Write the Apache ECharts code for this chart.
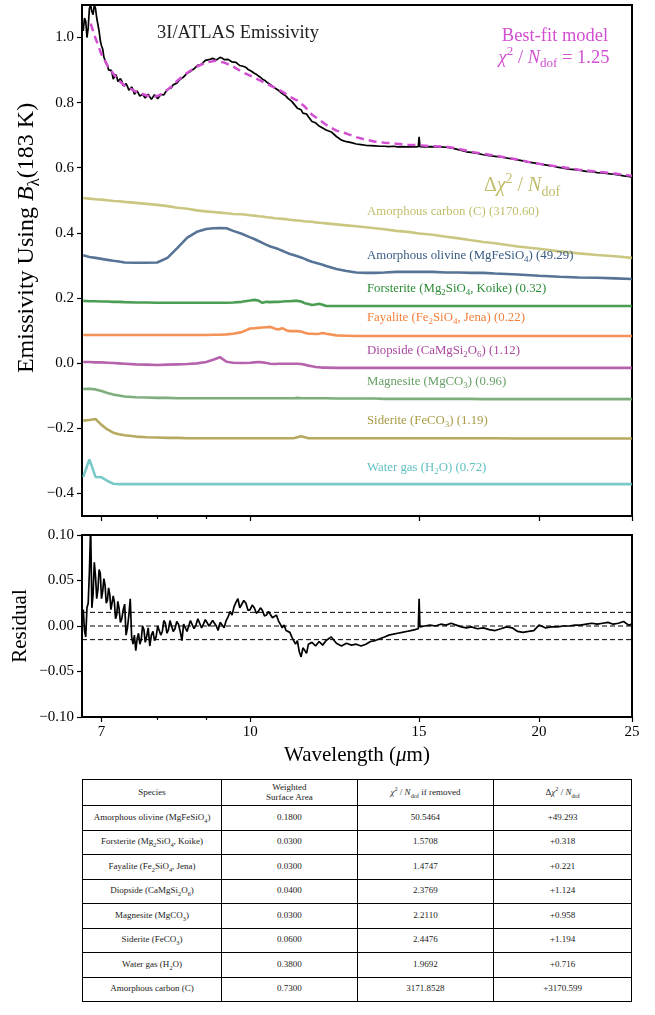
<!DOCTYPE html>
<html>
<head>
<meta charset="utf-8">
<title>3I/ATLAS Emissivity</title>
<script src="https://cdn.jsdelivr.net/npm/echarts@6.0.0/dist/echarts.min.js"></script>
<style>
  html, body { margin: 0; padding: 0; background: #fff; }
  #page { position: relative; width: 655px; height: 1015px; }
  #chart { position: absolute; left: 0; top: 0; width: 655px; height: 770px; }
  #fitTable {
    position: absolute; left: 82px; top: 779px; width: 550px;
    border-collapse: collapse; border: 1.5px solid #000;
    font-family: "Liberation Serif", "DejaVu Serif", serif; font-size: 9px; color: #222;
  }
  #fitTable td, #fitTable th {
    border: 1px solid #000; text-align: center; font-weight: normal;
    height: 23.5px; padding: 0 2px; line-height: 1.1;
  }
  #fitTable th { height: 25px; }
  #fitTable sub, #fitTable sup { font-size: 70%; line-height: 0; }
</style>
</head>
<body>
<div id="page">
  <div id="chart"></div>
  <table id="fitTable"></table>
</div>
<script>
// observed spectrum + residual share one wavelength grid (micron)
const WL_OBS = [
  6.70, 6.72, 6.74, 6.76, 6.78, 6.80, 6.82, 6.84, 6.86, 6.88,
  6.90, 6.92, 6.94, 6.96, 6.98, 7.00, 7.02, 7.04, 7.06, 7.08,
  7.10, 7.12, 7.14, 7.16, 7.18, 7.20, 7.22, 7.24, 7.26, 7.28,
  7.30, 7.325, 7.35, 7.375, 7.40, 7.425, 7.45, 7.475, 7.50, 7.525,
  7.55, 7.575, 7.60, 7.625, 7.65, 7.675, 7.70, 7.725, 7.75, 7.775,
  7.80, 7.83, 7.86, 7.89, 7.92, 7.95, 7.98, 8.01, 8.04, 8.07,
  8.10, 8.13, 8.16, 8.19, 8.22, 8.25, 8.28, 8.315, 8.35, 8.385,
  8.42, 8.455, 8.49, 8.525, 8.56, 8.595, 8.63, 8.665, 8.70, 8.74,
  8.78, 8.82, 8.86, 8.90, 8.94, 8.98, 9.02, 9.06, 9.10, 9.14,
  9.18, 9.22, 9.26, 9.305, 9.35, 9.395, 9.44, 9.485, 9.53, 9.575,
  9.62, 9.665, 9.71, 9.755, 9.80, 9.85, 9.90, 9.95, 10.0, 10.05,
  10.1, 10.15, 10.2, 10.25, 10.3, 10.35, 10.4, 10.45, 10.5, 10.55,
  10.6, 10.65, 10.7, 10.75, 10.8, 10.85, 10.9, 10.95, 11.0, 11.05,
  11.1, 11.15, 11.2, 11.25, 11.3, 11.35, 11.4, 11.45, 11.5, 11.6,
  11.7, 11.8, 11.9, 12.0, 12.15, 12.3, 12.45, 12.6, 12.75, 12.9,
  13.05, 13.2, 13.35, 13.5, 13.65, 13.8, 13.95, 14.1, 14.25, 14.4,
  14.55, 14.7, 14.85, 14.97, 15.0, 15.03, 15.2, 15.4, 15.6, 15.8,
  16.0, 16.2, 16.4, 16.6, 16.8, 17.0, 17.25, 17.5, 17.75, 18.0,
  18.25, 18.5, 18.75, 19.0, 19.25, 19.5, 19.75, 20.0, 20.3, 20.6,
  20.9, 21.2, 21.5, 21.8, 22.1, 22.4, 22.7, 23.0, 23.3, 23.6,
  23.9, 24.2, 24.5, 24.8, 25.0
];
const FLUX_OBS = [
  1.02, 1.06, 1.05, 1.00, 1.03, 1.09, 1.10, 1.08, 1.07, 1.10,
  1.09, 1.06, 1.04, 1.02, 0.99, 0.975, 0.965, 0.94, 0.93, 0.925,
  0.915, 0.9, 0.895, 0.9, 0.89, 0.872, 0.875, 0.887, 0.88, 0.865,
  0.862, 0.874, 0.866, 0.852, 0.848, 0.858, 0.85, 0.838, 0.835, 0.848,
  0.84, 0.826, 0.822, 0.836, 0.834, 0.82, 0.818, 0.826, 0.83, 0.814,
  0.815, 0.826, 0.824, 0.81, 0.812, 0.824, 0.822, 0.812, 0.816, 0.825,
  0.828, 0.824, 0.832, 0.838, 0.842, 0.84, 0.846, 0.855, 0.858, 0.86,
  0.866, 0.872, 0.877, 0.879, 0.884, 0.89, 0.893, 0.896, 0.902, 0.904,
  0.908, 0.915, 0.92, 0.918, 0.922, 0.93, 0.93, 0.932, 0.928, 0.936,
  0.938, 0.931, 0.934, 0.939, 0.937, 0.932, 0.93, 0.933, 0.929, 0.925,
  0.922, 0.924, 0.92, 0.914, 0.912, 0.911, 0.908, 0.902, 0.899, 0.895,
  0.89, 0.887, 0.882, 0.878, 0.872, 0.869, 0.864, 0.86, 0.855, 0.851,
  0.846, 0.843, 0.838, 0.832, 0.828, 0.825, 0.82, 0.813, 0.808, 0.804,
  0.797, 0.79, 0.783, 0.786, 0.778, 0.768, 0.762, 0.765, 0.757, 0.742,
  0.738, 0.728, 0.722, 0.716, 0.71, 0.696, 0.685, 0.68, 0.677, 0.673,
  0.671, 0.669, 0.668, 0.667, 0.666, 0.666, 0.665, 0.666, 0.664, 0.665,
  0.664, 0.665, 0.664, 0.665, 0.695, 0.665, 0.664, 0.665, 0.664, 0.664,
  0.663, 0.661, 0.657, 0.653, 0.649, 0.647, 0.644, 0.64, 0.637, 0.635,
  0.633, 0.63, 0.627, 0.624, 0.621, 0.617, 0.615, 0.612, 0.609, 0.606,
  0.602, 0.599, 0.596, 0.594, 0.592, 0.589, 0.588, 0.585, 0.584, 0.582,
  0.58, 0.578, 0.575, 0.573, 0.571
];
const RESIDUAL = [
  0.018, -0.005, -0.012, 0.02, 0.025, 0.06, 0.11, 0.02, 0.035, 0.07,
  0.055, 0.03, 0.04, 0.062, 0.058, 0.03, 0.038, 0.052, 0.045, 0.025,
  0.028, 0.042, 0.035, 0.018, 0.02, 0.033, 0.026, 0.008, 0.012, 0.027,
  0.02, 0.004, 0.008, 0.018, 0.024, -0.01, -0.002, 0.012, 0.03, -0.012,
  -0.02, -0.01, -0.027, -0.014, -0.008, -0.02, -0.015, 0.0, -0.004, -0.018,
  -0.012, -0.002, -0.022, -0.01, -0.006, -0.016, -0.012, 0.0, 0.002, -0.01,
  -0.006, 0.006, 0.003, -0.008, -0.004, 0.006, 0.004, -0.006, -0.003, 0.005,
  0.002, -0.006, -0.016, 0.002, 0.003, -0.006, -0.004, 0.006, 0.005, -0.003,
  0.001, 0.008, 0.007, -0.002, 0.002, 0.007, 0.005, 0.0, -0.002, 0.006,
  0.003, 0.0, -0.005, 0.004, 0.001, -0.002, 0.006, 0.01, 0.016, 0.012,
  0.021, 0.026, 0.03, 0.02, 0.022, 0.028, 0.025, 0.017, 0.018, 0.023,
  0.02, 0.014, 0.016, 0.02, 0.017, 0.011, 0.012, 0.016, 0.014, 0.009,
  0.008, 0.012, 0.006, 0.002, -0.002, 0.001, -0.005, -0.003, -0.007, -0.012,
  -0.01, -0.02, -0.016, -0.028, -0.034, -0.024, -0.026, -0.03, -0.02, -0.018,
  -0.022, -0.017, -0.021, -0.016, -0.012, -0.019, -0.022, -0.019, -0.021, -0.02,
  -0.022, -0.02, -0.017, -0.016, -0.014, -0.012, -0.01, -0.009, -0.008, -0.007,
  -0.006, -0.005, -0.004, -0.003, 0.03, -0.001, 0.0, 0.001, 0.0, 0.002,
  0.001, 0.003, 0.001, -0.001, -0.002, -0.001, -0.003, -0.002, -0.004, -0.005,
  -0.003, -0.001, -0.002, -0.006, -0.007, -0.006, -0.005, 0.001, -0.002, -0.001,
  -0.001, 0.0, 0.0, 0.001, 0.001, 0.002, 0.003, 0.002, 0.003, 0.004,
  0.002, 0.003, 0.005, 0.001, 0.002
];
const RESID_BAND = [0.015, 0, -0.015];

// best-fit model
const WL_MODEL = [
  6.82, 6.9, 7.0, 7.1, 7.2, 7.3, 7.4, 7.5, 7.6, 7.7,
  7.8, 7.9, 8.0, 8.1, 8.2, 8.3, 8.4, 8.5, 8.6, 8.8,
  9.0, 9.2, 9.4, 9.6, 9.8, 10.0, 10.2, 10.4, 10.6, 10.8,
  11.0, 11.2, 11.4, 11.6, 11.8, 12.0, 12.3, 12.6, 12.9, 13.2,
  13.5, 13.8, 14.2, 14.6, 15.0, 15.5, 16.0, 16.5, 17.0, 17.5,
  18.0, 18.5, 19.0, 19.5, 20.0, 21.0, 22.0, 23.0, 24.0, 25.0
];
const FLUX_MODEL = [
  1.043, 0.998, 0.948, 0.914, 0.889, 0.868, 0.852, 0.843, 0.834, 0.828,
  0.822, 0.818, 0.820, 0.828, 0.840, 0.852, 0.868, 0.880, 0.892, 0.911,
  0.923, 0.929, 0.923, 0.911, 0.895, 0.883, 0.871, 0.858, 0.846, 0.834,
  0.818, 0.806, 0.788, 0.763, 0.748, 0.732, 0.714, 0.705, 0.694, 0.686,
  0.680, 0.677, 0.674, 0.671, 0.669, 0.666, 0.665, 0.658, 0.649, 0.643,
  0.637, 0.631, 0.625, 0.618, 0.612, 0.603, 0.594, 0.588, 0.582, 0.575
];

// component curves (offset for display)
const WL_COMP = [
  6.7, 6.8, 6.9, 7.0, 7.1, 7.2, 7.3, 7.4, 7.6, 7.8,
  8.0, 8.2, 8.4, 8.6, 8.8, 9.0, 9.15, 9.3, 9.45, 9.6,
  9.8, 10.0, 10.1, 10.2, 10.3, 10.4, 10.5, 10.6, 10.7, 10.8,
  10.9, 11.0, 11.1, 11.2, 11.3, 11.4, 11.5, 11.6, 11.7, 11.8,
  11.9, 12.0, 12.3, 12.6, 12.9, 13.2, 13.5, 13.8, 14.2, 14.6,
  15.0, 15.5, 16, 16.5, 17, 17.5, 18, 19, 20, 21,
  22, 23, 24, 25
];
const CARBON = [
  0.507, 0.505, 0.503, 0.502, 0.500, 0.498, 0.497, 0.495, 0.492, 0.489,
  0.486, 0.482, 0.477, 0.474, 0.469, 0.466, 0.464, 0.462, 0.460, 0.458,
  0.457, 0.454, 0.453, 0.451, 0.450, 0.448, 0.447, 0.445, 0.444, 0.443,
  0.442, 0.440, 0.439, 0.438, 0.437, 0.435, 0.435, 0.434, 0.432, 0.431,
  0.430, 0.429, 0.426, 0.423, 0.420, 0.417, 0.414, 0.411, 0.406, 0.403,
  0.398, 0.394, 0.388, 0.383, 0.377, 0.372, 0.368, 0.358, 0.351, 0.343,
  0.337, 0.332, 0.328, 0.323
];
const OLIVINE = [
  0.331, 0.326, 0.323, 0.320, 0.317, 0.314, 0.312, 0.309, 0.308, 0.308,
  0.309, 0.323, 0.354, 0.385, 0.403, 0.412, 0.414, 0.415, 0.414, 0.406,
  0.397, 0.386, 0.381, 0.375, 0.369, 0.363, 0.358, 0.354, 0.350, 0.345,
  0.340, 0.335, 0.332, 0.328, 0.324, 0.320, 0.315, 0.311, 0.308, 0.305,
  0.302, 0.298, 0.289, 0.283, 0.278, 0.277, 0.277, 0.278, 0.280, 0.280,
  0.280, 0.280, 0.278, 0.278, 0.277, 0.277, 0.275, 0.272, 0.268, 0.265,
  0.263, 0.262, 0.260, 0.258
];
const FORSTERITE = [
  0.191, 0.190, 0.190, 0.189, 0.189, 0.188, 0.188, 0.187, 0.186, 0.186,
  0.185, 0.185, 0.185, 0.185, 0.185, 0.185, 0.185, 0.185, 0.185, 0.186,
  0.188, 0.192, 0.194, 0.192, 0.185, 0.188, 0.187, 0.188, 0.188, 0.189,
  0.190, 0.190, 0.191, 0.191, 0.189, 0.184, 0.181, 0.178, 0.180, 0.182,
  0.179, 0.175, 0.175, 0.175, 0.175, 0.175, 0.175, 0.175, 0.175, 0.175,
  0.175, 0.175, 0.175, 0.175, 0.175, 0.175, 0.175, 0.175, 0.175, 0.175,
  0.175, 0.175, 0.175, 0.175
];
const FAYALITE = [
  0.086, 0.086, 0.086, 0.086, 0.086, 0.086, 0.086, 0.086, 0.086, 0.086,
  0.086, 0.086, 0.086, 0.086, 0.086, 0.086, 0.087, 0.087, 0.088, 0.090,
  0.095, 0.106, 0.107, 0.108, 0.109, 0.110, 0.111, 0.106, 0.103, 0.107,
  0.101, 0.098, 0.098, 0.098, 0.097, 0.093, 0.090, 0.090, 0.089, 0.090,
  0.092, 0.090, 0.085, 0.084, 0.083, 0.083, 0.083, 0.083, 0.083, 0.083,
  0.083, 0.083, 0.083, 0.083, 0.083, 0.083, 0.083, 0.083, 0.083, 0.083,
  0.083, 0.083, 0.083, 0.083
];
const DIOPSIDE = [
  0.003, 0.003, 0.002, 0.002, 0.001, 0.000, -0.001, -0.002, -0.004, -0.005,
  -0.006, -0.005, -0.004, -0.003, -0.001, 0.003, 0.010, 0.018, 0.004, 0.001,
  0.000, 0.001, 0.002, 0.003, 0.002, 0.000, -0.002, -0.003, -0.002, -0.002,
  -0.002, -0.002, -0.002, -0.002, -0.003, -0.005, -0.008, -0.010, -0.012, -0.013,
  -0.014, -0.014, -0.015, -0.015, -0.015, -0.015, -0.015, -0.015, -0.015, -0.015,
  -0.015, -0.015, -0.015, -0.015, -0.015, -0.015, -0.015, -0.015, -0.015, -0.015,
  -0.015, -0.015, -0.015, -0.015
];
const MAGNESITE = [
  -0.080, -0.079, -0.081, -0.086, -0.092, -0.097, -0.100, -0.103, -0.105, -0.106,
  -0.107, -0.107, -0.108, -0.108, -0.108, -0.108, -0.108, -0.108, -0.108, -0.108,
  -0.108, -0.108, -0.108, -0.108, -0.108, -0.108, -0.108, -0.108, -0.108, -0.108,
  -0.108, -0.108, -0.108, -0.107, -0.108, -0.108, -0.108, -0.108, -0.108, -0.108,
  -0.108, -0.108, -0.109, -0.109, -0.109, -0.109, -0.109, -0.110, -0.110, -0.110,
  -0.110, -0.110, -0.110, -0.110, -0.110, -0.111, -0.111, -0.111, -0.111, -0.111,
  -0.111, -0.111, -0.111, -0.111
];
const SIDERITE = [
  -0.177, -0.175, -0.172, -0.190, -0.204, -0.214, -0.219, -0.222, -0.226, -0.228,
  -0.229, -0.230, -0.230, -0.231, -0.231, -0.231, -0.231, -0.231, -0.231, -0.231,
  -0.231, -0.231, -0.231, -0.231, -0.231, -0.231, -0.231, -0.231, -0.231, -0.231,
  -0.231, -0.231, -0.231, -0.228, -0.225, -0.228, -0.231, -0.231, -0.231, -0.231,
  -0.231, -0.231, -0.231, -0.231, -0.231, -0.231, -0.231, -0.231, -0.231, -0.231,
  -0.231, -0.231, -0.231, -0.231, -0.231, -0.231, -0.231, -0.232, -0.232, -0.232,
  -0.232, -0.232, -0.232, -0.232
];
const WATER = [
  -0.350, -0.296, -0.350, -0.351, -0.362, -0.371, -0.372, -0.372, -0.372, -0.372,
  -0.372, -0.372, -0.372, -0.372, -0.372, -0.372, -0.372, -0.372, -0.372, -0.372,
  -0.372, -0.372, -0.372, -0.372, -0.372, -0.372, -0.372, -0.372, -0.372, -0.372,
  -0.372, -0.372, -0.372, -0.372, -0.372, -0.372, -0.372, -0.372, -0.372, -0.372,
  -0.372, -0.372, -0.372, -0.372, -0.372, -0.372, -0.372, -0.372, -0.372, -0.372,
  -0.372, -0.372, -0.372, -0.372, -0.372, -0.372, -0.372, -0.372, -0.372, -0.372,
  -0.372, -0.372, -0.372, -0.372
];

const COMP_VALUES = [CARBON, OLIVINE, FORSTERITE, FAYALITE, DIOPSIDE, MAGNESITE, SIDERITE, WATER];
const COMP_COLORS = ['#c0bd6b', '#395b82', '#2b8c35', '#f2803a', '#a9489f', '#67a067', '#a99a44', '#62c0c0'];
// _{..} marks a subscript
const COMP_LABELS = [
  'Amorphous carbon (C) (3170.60)',
  'Amorphous olivine (MgFeSiO_{4}) (49.29)',
  'Forsterite (Mg_{2}SiO_{4}, Koike) (0.32)',
  'Fayalite (Fe_{2}SiO_{4}, Jena) (0.22)',
  'Diopside (CaMgSi_{2}O_{6}) (1.12)',
  'Magnesite (MgCO_{3}) (0.96)',
  'Siderite (FeCO_{3}) (1.19)',
  'Water gas (H_{2}O) (0.72)'
];
const LABEL_Y = [212, 256, 289, 318, 351, 382, 421, 468];

const X_MAJOR = [7, 10, 15, 20, 25];
const X_MINOR = [8, 9];
const Y_TICKS = [-0.4, -0.2, 0, 0.2, 0.4, 0.6, 0.8, 1.0];

// table
const TABLE_HEAD = ['Species', 'Weighted<br>Surface Area',
  '<i>&chi;</i><sup>2</sup> / <i>N</i><sub>dof</sub> if removed',
  '&Delta;<i>&chi;</i><sup>2</sup> / <i>N</i><sub>dof</sub>'];
const SPECIES = [
  'Amorphous olivine (MgFeSiO<sub>4</sub>)',
  'Forsterite (Mg<sub>2</sub>SiO<sub>4</sub>, Koike)',
  'Fayalite (Fe<sub>2</sub>SiO<sub>4</sub>, Jena)',
  'Diopside (CaMgSi<sub>2</sub>O<sub>6</sub>)',
  'Magnesite (MgCO<sub>3</sub>)',
  'Siderite (FeCO<sub>3</sub>)',
  'Water gas (H<sub>2</sub>O)',
  'Amorphous carbon (C)'
];
const AREA = ['0.1800', '0.0300', '0.0300', '0.0400', '0.0300', '0.0600', '0.3800', '0.7300'];
const CHI2_REMOVED = ['50.5464', '1.5708', '1.4747', '2.3769', '2.2110', '2.4476', '1.9692', '3171.8528'];
const DELTA_CHI2 = ['+49.293', '+0.318', '+0.221', '+1.124', '+0.958', '+1.194', '+0.716', '+3170.599'];

const SERIF = '"Liberation Serif", "DejaVu Serif", serif';
const XMIN = 6.68, XMAX = 25;

function zip(xs, ys) {
  return xs.map((x, i) => [x, ys[i]]);
}

function fmtTick(v, d) {
  const s = v.toFixed(d);
  if (s.charAt(0) === '-') {
    return parseFloat(s) === 0 ? s.slice(1) : '\u2212' + s.slice(1);
  }
  return s;
}

function richStyles(size, color) {
  return {
    n: { fontSize: size, fontFamily: SERIF, fill: color, color: color, lineHeight: Math.round(size * 1.35) },
    i: { fontSize: size, fontFamily: SERIF, fontStyle: 'italic', fill: color, color: color, lineHeight: Math.round(size * 1.35) },
    sup: { fontSize: Math.round(size * 0.7), fontFamily: SERIF, fill: color, color: color, verticalAlign: 'top' },
    sub: { fontSize: Math.round(size * 0.7), fontFamily: SERIF, fill: color, color: color, verticalAlign: 'bottom' }
  };
}

function toRich(s) {
  return '{n|' + s.replace(/_\{(.*?)\}/g, '}{sub|$1}{n|') + '}';
}

function richText(x, y, text, size, color, align, rotation) {
  return {
    type: 'text', x: x, y: y, rotation: rotation || 0, z: 100, silent: true,
    style: {
      text: text, rich: richStyles(size, color), fill: color,
      fontSize: size, fontFamily: SERIF,
      align: align, textAlign: align, verticalAlign: 'middle', textVerticalAlign: 'middle'
    }
  };
}

function tickAxis(grid, values, len, withLabels) {
  return {
    gridIndex: grid, type: 'value', position: 'bottom',
    min: Math.log10(XMIN), max: Math.log10(XMAX),
    axisLine: { show: false, onZero: false },
    splitLine: { show: false },
    axisTick: { show: true, customValues: values.map(v => Math.log10(v)), length: len,
      lineStyle: { color: '#000', width: 1.2 } },
    axisLabel: withLabels ? {
      show: true, customValues: values.map(v => Math.log10(v)),
      formatter: v => String(Math.round(Math.pow(10, v))),
      fontFamily: SERIF, fontSize: 15, color: '#000', margin: 8
    } : { show: false }
  };
}

const chart = echarts.init(document.getElementById('chart'));

const compSeries = COMP_VALUES.map((vals, k) => ({
  type: 'line', xAxisIndex: 0, yAxisIndex: 0, data: zip(WL_COMP, vals),
  showSymbol: false, symbol: 'none', silent: true,
  lineStyle: { color: COMP_COLORS[k], width: 2.6, opacity: 0.85 }
}));

const bandSeries = RESID_BAND.map(v => ({
  type: 'line', xAxisIndex: 3, yAxisIndex: 1, data: [[XMIN, v], [XMAX, v]],
  showSymbol: false, symbol: 'none', silent: true, z: 1,
  lineStyle: { color: '#000', width: 1, type: [5, 3] }
}));

const graphics = [
  richText(238, 33, '{n|3I/ATLAS Emissivity}', 18.5, '#222', 'center'),
  richText(555, 36, '{n|Best-fit model}', 18.5, '#d24fd2', 'center'),
  richText(554, 58, '{i|\u03c7}{sup|2}{n| / }{i|N}{sub|dof}{n| = 1.25}', 18.5, '#d24fd2', 'center'),
  richText(522, 186, '{n|\u0394}{i|\u03c7}{sup|2}{n| / }{i|N}{sub|dof}', 20, '#c0bd6b', 'center'),
  richText(27, 238, '{n|Emissivity Using }{i|B}{sub|\u03bb}{n|(183 K)}', 24, '#000', 'center', Math.PI / 2),
  richText(20, 626, '{n|Residual}', 21, '#000', 'center', Math.PI / 2),
  richText(357, 755, '{n|Wavelength (}{i|\u03bc}{n|m)}', 21, '#000', 'center')
].concat(COMP_LABELS.map((s, k) => richText(367, LABEL_Y[k], toRich(s), 12.8, COMP_COLORS[k], 'left')));

chart.setOption({
  animation: false,
  backgroundColor: '#fff',
  grid: [
    { left: 82, right: 23, top: 5, height: 511, show: true, borderColor: '#000', borderWidth: 2, outerBoundsMode: 'none' },
    { left: 82, right: 23, top: 535, height: 182, show: true, borderColor: '#000', borderWidth: 2, outerBoundsMode: 'none' }
  ],
  xAxis: [
    { gridIndex: 0, type: 'log', logBase: 10, min: XMIN, max: XMAX, show: false },
    tickAxis(0, X_MAJOR, 5, false),
    tickAxis(0, X_MINOR, 3, false),
    { gridIndex: 1, type: 'log', logBase: 10, min: XMIN, max: XMAX, show: false },
    tickAxis(1, X_MAJOR, 5, true),
    tickAxis(1, X_MINOR, 3, false)
  ],
  yAxis: [
    {
      gridIndex: 0, type: 'value', min: -0.47, max: 1.1,
      axisLine: { show: false, onZero: false }, splitLine: { show: false },
      axisTick: { customValues: Y_TICKS, length: 5, lineStyle: { color: '#000', width: 1.2 } },
      axisLabel: { customValues: Y_TICKS, formatter: v => fmtTick(v, 1),
        fontFamily: SERIF, fontSize: 15, color: '#000', margin: 8 }
    },
    {
      gridIndex: 1, type: 'value', min: -0.1, max: 0.1, interval: 0.05,
      axisLine: { show: false, onZero: false }, splitLine: { show: false },
      axisTick: { length: 5, lineStyle: { color: '#000', width: 1.2 } },
      axisLabel: { formatter: v => fmtTick(v, 2),
        fontFamily: SERIF, fontSize: 15, color: '#000', margin: 8 }
    }
  ],
  series: compSeries.concat(bandSeries, [
    {
      name: 'Observed', type: 'line', xAxisIndex: 0, yAxisIndex: 0,
      data: zip(WL_OBS, FLUX_OBS), showSymbol: false, symbol: 'none', silent: true,
      lineStyle: { color: '#000', width: 1.7 }
    },
    {
      name: 'Best-fit model', type: 'line', xAxisIndex: 0, yAxisIndex: 0,
      data: zip(WL_MODEL, FLUX_MODEL), showSymbol: false, symbol: 'none', silent: true,
      lineStyle: { color: '#d24fd2', width: 2.5, type: [8, 5] }
    },
    {
      name: 'Residual', type: 'line', xAxisIndex: 3, yAxisIndex: 1,
      data: zip(WL_OBS, RESIDUAL), showSymbol: false, symbol: 'none', silent: true, z: 3,
      lineStyle: { color: '#000', width: 1.7 }
    }
  ]),
  graphic: graphics
});

// table under the chart
const table = document.getElementById('fitTable');
let html = '<tr>' + TABLE_HEAD.map(h => '<th>' + h + '</th>').join('') + '</tr>';
SPECIES.forEach((sp, i) => {
  html += '<tr><td>' + sp + '</td><td>' + AREA[i] + '</td><td>' + CHI2_REMOVED[i] +
    '</td><td>' + DELTA_CHI2[i] + '</td></tr>';
});
table.innerHTML = html;
Array.prototype.forEach.call(table.rows[0].cells, (c, i) => { c.style.width = [139, 136, 137, 138][i] + 'px'; });
</script>
</body>
</html>
